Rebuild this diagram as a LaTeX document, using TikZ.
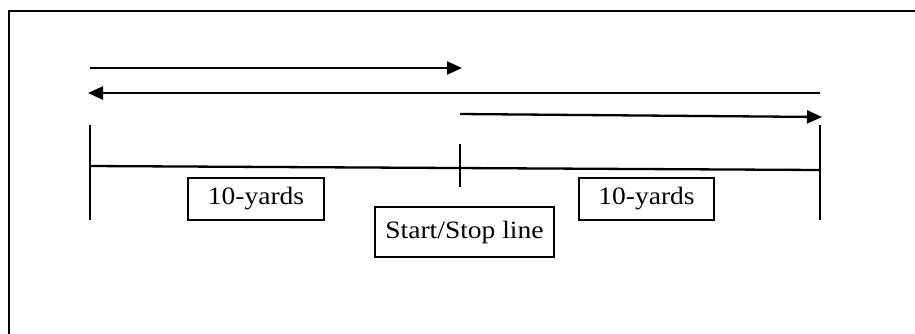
\documentclass[tikz,border=0pt]{standalone}
\usepackage{fontspec}
\newfontfamily\tf[FakeStretch=1.1]{Liberation Serif}
\usetikzlibrary{arrows.meta}
\begin{document}
\begin{tikzpicture}[x=1pt,y=-1pt,
  ln/.style={line width=2.3pt,black},
  arr/.style={ln,-{Triangle[length=15pt,width=13pt]}},
  lbl/.style={draw,line width=2pt,inner sep=0pt,font=\tf\fontsize{25}{28}\selectfont},
]
\useasboundingbox (0,0) rectangle (915,333);
\fill[white] (0,0) rectangle (915,333);
% frame
\coordinate (fb) at (9,340);
\coordinate (ftl) at (9,11);
\coordinate (fr) at (920,11);
\draw[ln] (fb) -- (ftl) -- (fr);
% coordinates
\coordinate (Lt) at (90,125); \coordinate (Lb) at (90,220);
\coordinate (Rt) at (820,125); \coordinate (Rb) at (820,220);
\coordinate (Mt) at (460,144); \coordinate (Mb) at (460,187);
\coordinate (Bl) at (90,166); \coordinate (Br) at (820,170);
\coordinate (a1s) at (90,68); \coordinate (a1e) at (462,68);
\coordinate (a2s) at (820,93); \coordinate (a2e) at (88,93);
\coordinate (a3s) at (460,114); \coordinate (a3e) at (822,117);
% track
\draw[ln] (Lt) -- (Lb);
\draw[ln] (Rt) -- (Rb);
\draw[ln] (Mt) -- (Mb);
\draw[ln] (Bl) -- (Br);
% arrows
\draw[arr] (a1s) -- (a1e);
\draw[arr] (a2s) -- (a2e);
\draw[arr] (a3s) -- (a3e);
% labels
\node[lbl,minimum width=136pt,minimum height=42pt] (y1) at (256,199) {10-yards};
\node[lbl,minimum width=179pt,minimum height=50pt] (ss) at (464.5,232) {Start/Stop line};
\node[lbl,minimum width=135pt,minimum height=42pt] (y2) at (646.5,199) {10-yards};
\end{tikzpicture}
\end{document}
